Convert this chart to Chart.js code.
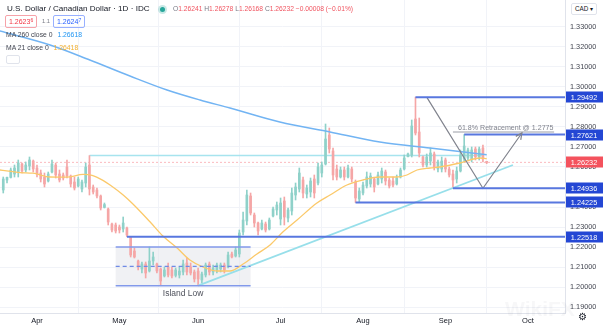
<!DOCTYPE html>
<html>
<head>
<meta charset="utf-8">
<script src="https://cdn.jsdelivr.net/npm/chart.js@4.4.1/dist/chart.umd.min.js"></script>
<style>
  body { margin: 0; background: #fff; }
  #wrap { position: relative; width: 603px; height: 327px; overflow: hidden; font-family: "Liberation Sans", Arial, sans-serif; }
  #chart { position: absolute; left: 0; top: 0; }
  .hd { position: absolute; white-space: nowrap; color: #131722; line-height: 1; }
  .k { color: #787b86; }
  .r { color: #f0525e; }
  .bx { position: absolute; height: 11px; line-height: 11px; padding: 0 3px; border: 1px solid; border-radius: 2px; font-size: 7px; white-space: nowrap; }
  .bx sup { font-size: 5px; vertical-align: 2px; line-height: 0; }
  .dot { position: absolute; width: 5px; height: 5px; border-radius: 50%; background: #26a69a; box-shadow: 0 0 0 2px rgba(38,166,154,0.25); }
</style>
</head>
<body>
<div id="wrap">
  <canvas id="chart" width="603" height="327"></canvas>

  <div class="hd" style="left:7px;top:5px;font-size:8.1px;">U.S. Dollar / Canadian Dollar · 1D · IDC</div>
  <div class="dot" style="left:160px;top:7px;"></div>
  <div class="hd" style="left:173px;top:6px;font-size:6.7px;"><span class="k">O</span><span class="r">1.26241</span> <span class="k">H</span><span class="r">1.26278</span> <span class="k">L</span><span class="r">1.26168</span> <span class="k">C</span><span class="r">1.26232</span> <span class="r">−0.00008 (−0.01%)</span></div>

  <div class="bx" style="left:5px;top:15px;border-color:#f6a2a9;color:#f23645;">1.2623<sup>6</sup></div>
  <div class="hd" style="left:42px;top:19px;font-size:5.8px;color:#787b86;">1.1</div>
  <div class="bx" style="left:53px;top:15px;border-color:#98b0ff;color:#2962ff;">1.2624<sup>7</sup></div>

  <div class="hd" style="left:6px;top:32px;font-size:6.8px;color:#434651;">MA 260 close 0 <span style="color:#2196f3;margin-left:3px;">1.26618</span></div>
  <div class="hd" style="left:6px;top:45px;font-size:6.8px;color:#434651;">MA 21 close 0 <span style="color:#f2b030;margin-left:3px;">1.26418</span></div>
  <div style="position:absolute;left:6px;top:55px;width:12px;height:7px;border:1px solid #e0e3eb;border-radius:2px;background:#fff;"></div>

  <div class="hd" style="left:571px;top:3px;font-size:6.3px;padding:2px 3px;border:1px solid #e0e3eb;border-radius:2px;color:#131722;background:#fff;">CAD ▾</div>
  <div class="hd" style="left:578px;top:312px;font-size:10px;color:#131722;">⚙</div>
  <div class="hd" style="left:505px;top:298px;font-size:21px;font-weight:bold;color:rgba(60,70,90,0.045);">WikiFX</div>
</div>

<script>
// trading-day index: 0 = 1 Apr 2021, one step per weekday
const firstIdx = -9;

const opens = [
  1.2485, 1.2535, 1.2548, 1.2565, 1.2575, 1.2615, 1.2585, 1.2605, 1.2630,
  1.2595, 1.2570, 1.2550, 1.2530, 1.2575, 1.2610, 1.2565, 1.2560, 1.2600, 1.2555,
  1.2525, 1.2505, 1.2490, 1.2520, 1.2610, 1.2500, 1.2485, 1.2455, 1.2398, 1.2390,
  1.2315, 1.2310, 1.2300, 1.2290, 1.2295, 1.2250, 1.2180, 1.2130, 1.2090, 1.2115,
  1.2080, 1.2130, 1.2115, 1.2090, 1.2055, 1.2100, 1.2085, 1.2058, 1.2060, 1.2075,
  1.2120, 1.2100, 1.2075, 1.2080, 1.2035, 1.2060, 1.2115, 1.2075, 1.2085, 1.2090,
  1.2110, 1.2100, 1.2165, 1.2155, 1.2165, 1.2275, 1.2330, 1.2455, 1.2360, 1.2320,
  1.2290, 1.2315, 1.2290, 1.2355, 1.2385, 1.2340, 1.2430, 1.2345, 1.2380, 1.2460,
  1.2490, 1.2535, 1.2465, 1.2475, 1.2540, 1.2520, 1.2570, 1.2615, 1.2760, 1.2680,
  1.2590, 1.2550, 1.2585, 1.2550, 1.2590, 1.2525, 1.2440, 1.2470, 1.2505, 1.2515,
  1.2540, 1.2515, 1.2540, 1.2575, 1.2535, 1.2530, 1.2515, 1.2550, 1.2590, 1.2652,
  1.2660, 1.2840, 1.2775, 1.2650, 1.2610, 1.2630, 1.2665, 1.2590, 1.2590, 1.2635,
  1.2590, 1.2565, 1.2540, 1.2580, 1.2640, 1.2645, 1.2640, 1.2690, 1.2650, 1.2695,
  1.26241
];
const highs = [
  1.2550, 1.2550, 1.2595, 1.2610, 1.2635, 1.2620, 1.2625, 1.2650, 1.2635,
  1.2610, 1.2585, 1.2570, 1.2575, 1.2635, 1.2620, 1.2585, 1.2570, 1.2635, 1.2560,
  1.2550, 1.2550, 1.2535, 1.2620, 1.2657, 1.2510, 1.2495, 1.2460, 1.2420, 1.2395,
  1.2320, 1.2320, 1.2310, 1.2350, 1.2300, 1.2248, 1.2195, 1.2135, 1.2125, 1.2125,
  1.2200, 1.2175, 1.2120, 1.2095, 1.2100, 1.2120, 1.2100, 1.2095, 1.2100, 1.2135,
  1.2145, 1.2120, 1.2085, 1.2095, 1.2075, 1.2120, 1.2125, 1.2110, 1.2120, 1.2120,
  1.2120, 1.2175, 1.2175, 1.2200, 1.2285, 1.2375, 1.2485, 1.2470, 1.2370, 1.2325,
  1.2335, 1.2325, 1.2345, 1.2400, 1.2425, 1.2445, 1.2450, 1.2395, 1.2495, 1.2520,
  1.2595, 1.2550, 1.2510, 1.2545, 1.2560, 1.2620, 1.2625, 1.2815, 1.2795, 1.2695,
  1.2610, 1.2600, 1.2600, 1.2610, 1.2600, 1.2535, 1.2495, 1.2525, 1.2575, 1.2570,
  1.2545, 1.2575, 1.2595, 1.2585, 1.2545, 1.2550, 1.2560, 1.2595, 1.2660, 1.2670,
  1.2835, 1.29492, 1.2845, 1.2655, 1.2665, 1.2695, 1.2675, 1.2635, 1.2650, 1.2645,
  1.2600, 1.2585, 1.2600, 1.2685, 1.27621, 1.2695, 1.2700, 1.2700, 1.2700, 1.2710,
  1.26278
];
const lows = [
  1.2470, 1.2520, 1.2545, 1.2550, 1.2550, 1.2570, 1.2575, 1.2585, 1.2575,
  1.2550, 1.2525, 1.2500, 1.2525, 1.2570, 1.2545, 1.2525, 1.2535, 1.2545, 1.2500,
  1.2485, 1.2500, 1.2475, 1.2500, 1.2460, 1.2465, 1.2445, 1.2385, 1.2395, 1.2310,
  1.2275, 1.2270, 1.2270, 1.2275, 1.22518, 1.2150, 1.2145, 1.2085, 1.2070, 1.2045,
  1.2075, 1.2110, 1.2070, 1.2010, 1.2050, 1.2050, 1.2045, 1.2050, 1.2045, 1.2060,
  1.2060, 1.2060, 1.2025, 1.2007, 1.2020, 1.2050, 1.2060, 1.2060, 1.2070, 1.2075,
  1.2070, 1.2095, 1.2145, 1.2150, 1.2150, 1.2260, 1.2310, 1.2360, 1.2300, 1.2260,
  1.2285, 1.2275, 1.2285, 1.2350, 1.2360, 1.2310, 1.2310, 1.2325, 1.2360, 1.2435,
  1.2475, 1.2445, 1.2445, 1.2450, 1.2445, 1.2510, 1.2550, 1.2610, 1.2670, 1.2535,
  1.2535, 1.2545, 1.2535, 1.2545, 1.2525, 1.24225, 1.2425, 1.2460, 1.2495, 1.2500,
  1.2475, 1.2510, 1.2520, 1.2510, 1.2495, 1.2500, 1.2510, 1.2545, 1.2585, 1.2650,
  1.2650, 1.2760, 1.2650, 1.2600, 1.2600, 1.2610, 1.2585, 1.2575, 1.2575, 1.2575,
  1.2550, 1.24936, 1.2520, 1.2575, 1.2625, 1.2635, 1.2625, 1.2635, 1.2635, 1.2625,
  1.26168
];
const closes = [
  1.2540, 1.2548, 1.2585, 1.2595, 1.2620, 1.2580, 1.2610, 1.2635, 1.2590,
  1.2565, 1.2540, 1.2515, 1.2565, 1.2615, 1.2560, 1.2535, 1.2545, 1.2555, 1.2515,
  1.2495, 1.2540, 1.2525, 1.2600, 1.2490, 1.2475, 1.2455, 1.2395, 1.2412, 1.2325,
  1.2285, 1.2280, 1.2285, 1.2320, 1.2260, 1.2160, 1.2150, 1.2100, 1.2115, 1.2070,
  1.2130, 1.2150, 1.2080, 1.2030, 1.2085, 1.2060, 1.2055, 1.2085, 1.2080, 1.2115,
  1.2075, 1.2070, 1.2040, 1.2040, 1.2065, 1.2110, 1.2075, 1.2095, 1.2110, 1.2110,
  1.2085, 1.2160, 1.2150, 1.2185, 1.2270, 1.2335, 1.2460, 1.2370, 1.2320, 1.2280,
  1.2320, 1.2285, 1.2335, 1.2390, 1.2410, 1.2420, 1.2350, 1.2385, 1.2470, 1.2500,
  1.2570, 1.2470, 1.2495, 1.2530, 1.2470, 1.2600, 1.2610, 1.2740, 1.2690, 1.2560,
  1.2550, 1.2585, 1.2550, 1.2595, 1.2540, 1.2445, 1.2480, 1.2510, 1.2550, 1.2555,
  1.2500, 1.2560, 1.2580, 1.2530, 1.2505, 1.2510, 1.2545, 1.2585, 1.2645, 1.2665,
  1.2805, 1.2770, 1.2670, 1.2610, 1.2650, 1.2670, 1.2600, 1.2625, 1.2630, 1.2590,
  1.2560, 1.2535, 1.2580, 1.2660, 1.2705, 1.2685, 1.2685, 1.2650, 1.2690, 1.2640,
  1.26232
];

// moving averages as plotted (index, value)
const ma21Idx = [-9.9, -4.5, -1.1, 3.5, 8.0, 12.3, 14.7, 17.6, 19.5, 23.0, 25.6, 30.2, 33.6, 37.4, 40.8, 44.3,
  48.0, 51.5, 55.0, 58.7, 62.2, 65.6, 69.4, 74.7, 78.2, 82.7, 87.0, 91.5, 96.1, 98.7, 101.4, 104.9, 107.5, 112.9, 118.2, 120];
const ma21Val = [1.2585, 1.2572, 1.2569, 1.2550, 1.2549, 1.2563, 1.2558, 1.2533, 1.2510, 1.2460, 1.2415, 1.2325, 1.2255, 1.2195, 1.2135, 1.2100,
  1.2080, 1.2080, 1.2115, 1.2165, 1.2210, 1.2275, 1.2335, 1.2420, 1.2460, 1.2510, 1.2535, 1.2550, 1.2550, 1.2560, 1.2585, 1.2595, 1.2600, 1.2620, 1.2645, 1.26418];
const ma260Idx = [-9.9, 3.5, 14.1, 24.8, 34.7, 43.5, 51.5, 64.8, 78.2, 91.5, 104.9, 120];
const ma260Val = [1.3280, 1.3210, 1.3135, 1.3055, 1.2985, 1.2935, 1.2895, 1.2825, 1.2775, 1.2725, 1.2695, 1.26618];

// drawn levels
const levelValues = [1.29492, 1.27621, 1.24936, 1.24225, 1.22518];
const levelStarts = [101, 114, 111, 85, 24];
const lastPrice = 1.26232;
const aprilHigh = 1.2657;
const trendFrom = [43, 1.2007];
const trendTo = [127, 1.2610];
const swingIdx = [104, 119, 129.4];
const swingVal = [1.29492, 1.24936, 1.2770];
const fibLevel = 1.2775;
const fibRange = [111, 138];
const islandBox = { from: 21, to: 57, top: 1.2200, bottom: 1.20065, mid: 1.2103 };

// axes
const monthTicks = [0, 22, 43, 65, 87, 109, 131];
const monthLabels = ['Apr', 'May', 'Jun', 'Jul', 'Aug', 'Sep', 'Oct'];
const priceTicks = [1.19, 1.20, 1.21, 1.22, 1.23, 1.24, 1.25, 1.26, 1.27, 1.28, 1.29, 1.30, 1.31, 1.32, 1.33];
const X_MIN = -9.87, X_MAX = 140.9;
const Y_MIN = 1.187, Y_MAX = 1.3435;

const UP = '#8fd1c9', DOWN = '#f5a6a6';
const candleIdx = opens.map((_, k) => firstIdx + k);
const candleColor = opens.map((o, k) => closes[k] >= o ? UP : DOWN);

const pts = (xs, ys) => xs.map((x, k) => ({ x: x, y: ys[k] }));
const seg = (opt) => Object.assign({ type: 'line', pointRadius: 0, fill: false, borderWidth: 1 }, opt);

const datasets = [
  seg({ data: [{ x: X_MIN, y: lastPrice }, { x: X_MAX, y: lastPrice }], borderColor: 'rgba(242,54,69,0.35)', borderDash: [2, 2], order: 20 }),
  seg({ data: [{ x: 14, y: aprilHigh }, { x: 119, y: aprilHigh }], borderColor: '#a7e4ee', borderWidth: 1.5, order: 15 }),
  {
    type: 'bar', grouped: false, barThickness: 1, order: 12,
    data: candleIdx.map((i, k) => ({ x: i, y: [lows[k], highs[k]] })),
    backgroundColor: candleColor
  },
  {
    type: 'bar', grouped: false, barThickness: 2, minBarLength: 1, order: 11,
    data: candleIdx.map((i, k) => ({ x: i, y: [opens[k], closes[k]] })),
    backgroundColor: candleColor
  },
  seg({ data: pts(ma260Idx, ma260Val), borderColor: '#72b4f3', borderWidth: 1.5, cubicInterpolationMode: 'monotone', order: 6 }),
  seg({ data: pts(ma21Idx, ma21Val), borderColor: '#fbc96a', borderWidth: 1.3, cubicInterpolationMode: 'monotone', order: 5 }),
  seg({ data: [{ x: trendFrom[0], y: trendFrom[1] }, { x: trendTo[0], y: trendTo[1] }], borderColor: '#97dfea', borderWidth: 1.8, order: 4 }),
  seg({ data: [{ x: fibRange[0], y: fibLevel }, { x: fibRange[1], y: fibLevel }], borderColor: '#9a9da6', order: 3 }),
  seg({ data: pts(swingIdx, swingVal), borderColor: '#80838d', borderWidth: 1.2, order: 2 })
];
levelValues.forEach((v, k) => {
  datasets.push(seg({ data: [{ x: levelStarts[k], y: v }, { x: X_MAX, y: v }], borderColor: '#5877df', borderWidth: 2, order: 1 }));
});

const overlay = {
  id: 'overlay',
  beforeDatasetsDraw(chart) {
    const { ctx, scales: { x, y } } = chart;
    const x0 = x.getPixelForValue(islandBox.from), x1 = x.getPixelForValue(islandBox.to);
    const yt = y.getPixelForValue(islandBox.top), yb = y.getPixelForValue(islandBox.bottom);
    ctx.save();
    ctx.fillStyle = 'rgba(226,227,233,0.5)';
    ctx.fillRect(x0, yt, x1 - x0, yb - yt);
    ctx.restore();
  },
  afterDatasetsDraw(chart) {
    const { ctx, scales: { x, y } } = chart;
    const x0 = x.getPixelForValue(islandBox.from), x1 = x.getPixelForValue(islandBox.to);
    const yt = y.getPixelForValue(islandBox.top), yb = y.getPixelForValue(islandBox.bottom);
    const ym = y.getPixelForValue(islandBox.mid);
    ctx.save();
    ctx.strokeStyle = '#8299ea';
    ctx.lineWidth = 1.5;
    ctx.beginPath();
    ctx.moveTo(x0, yt); ctx.lineTo(x1, yt);
    ctx.moveTo(x0, yb); ctx.lineTo(x1, yb);
    ctx.stroke();
    ctx.setLineDash([4, 3]);
    ctx.lineWidth = 1.2;
    ctx.strokeStyle = '#6f8ae6';
    ctx.beginPath();
    ctx.moveTo(x0, ym); ctx.lineTo(x1, ym);
    ctx.stroke();
    ctx.setLineDash([]);

    ctx.fillStyle = '#4f525c';
    ctx.font = '8.5px "Liberation Sans", Arial, sans-serif';
    ctx.textAlign = 'center';
    ctx.textBaseline = 'middle';
    ctx.fillText('Island Low', (x0 + x1) / 2, yb + 8);

    // fib caption
    ctx.fillStyle = '#80838d';
    ctx.font = '7.1px "Liberation Sans", Arial, sans-serif';
    ctx.textAlign = 'left';
    ctx.textBaseline = 'alphabetic';
    ctx.fillText('61.8% Retracement @ 1.2775', x.getPixelForValue(fibRange[0]) + 5, y.getPixelForValue(fibLevel) - 2.5);

    // arrow head on the projected leg
    const n = swingIdx.length;
    const ax = x.getPixelForValue(swingIdx[n - 1]), ay = y.getPixelForValue(swingVal[n - 1]);
    const bx = x.getPixelForValue(swingIdx[n - 2]), by = y.getPixelForValue(swingVal[n - 2]);
    const ang = Math.atan2(by - ay, bx - ax);
    ctx.strokeStyle = '#80838d';
    ctx.lineWidth = 1.2;
    ctx.beginPath();
    ctx.moveTo(ax + 7 * Math.cos(ang + 0.45), ay + 7 * Math.sin(ang + 0.45));
    ctx.lineTo(ax, ay);
    ctx.lineTo(ax + 7 * Math.cos(ang - 0.45), ay + 7 * Math.sin(ang - 0.45));
    ctx.stroke();
    ctx.restore();
  },
  afterDraw(chart) {
    const { ctx, scales: { y } } = chart;
    const tag = (v, bg) => {
      const py = Math.round(y.getPixelForValue(v));
      ctx.fillStyle = bg;
      ctx.fillRect(566, py - 5.5, 37, 11);
      ctx.fillStyle = '#fff';
      ctx.fillText(v.toFixed(5), 584, py + 0.5);
    };
    ctx.save();
    ctx.font = '7.3px "Liberation Sans", Arial, sans-serif';
    ctx.textAlign = 'center';
    ctx.textBaseline = 'middle';
    levelValues.forEach(v => tag(v, '#2447d4'));
    tag(lastPrice, '#f4525d');
    ctx.restore();
  }
};

Chart.defaults.font.family = '"Liberation Sans", Arial, sans-serif';

new Chart(document.getElementById('chart'), {
  type: 'bar',
  data: { datasets: datasets },
  options: {
    responsive: false,
    animation: false,
    layout: { padding: 0 },
    plugins: { legend: { display: false }, tooltip: { enabled: false } },
    scales: {
      x: {
        type: 'linear', min: X_MIN, max: X_MAX, offset: false,
        afterBuildTicks: s => { s.ticks = monthTicks.map(v => ({ value: v })); },
        afterFit: s => { s.height = 14; s.paddingLeft = 0; s.paddingRight = 0; },
        ticks: { callback: (v, i) => monthLabels[i], font: { size: 7.5 }, color: '#131722', padding: 3, maxRotation: 0, autoSkip: false },
        grid: { color: '#f1f3f8', drawTicks: false },
        border: { color: '#e0e3eb' }
      },
      y: {
        position: 'right', min: Y_MIN, max: Y_MAX,
        afterBuildTicks: s => { s.ticks = priceTicks.map(v => ({ value: v })); },
        // keep the plot flush with the top edge
        afterFit: s => { s.width = 38; s.paddingTop = 0; s.paddingBottom = 0; },
        ticks: { callback: v => v.toFixed(5), font: { size: 7.3 }, color: '#434651', padding: 5, autoSkip: false },
        grid: { color: '#f1f3f8', drawTicks: false },
        border: { color: '#e0e3eb' }
      }
    }
  },
  plugins: [overlay]
});
</script>
</body>
</html>
